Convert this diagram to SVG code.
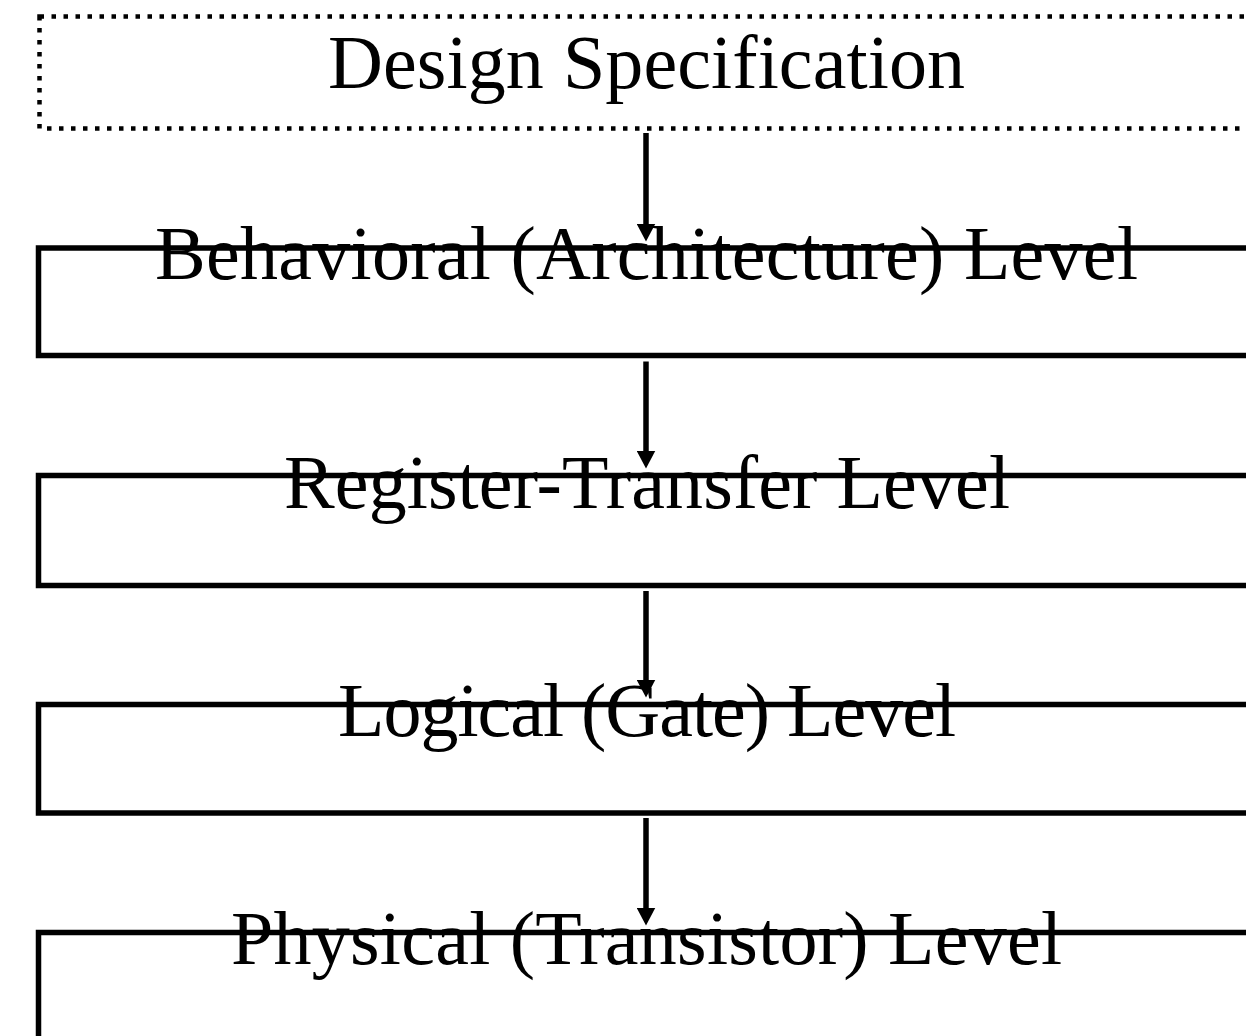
<svg xmlns="http://www.w3.org/2000/svg" width="1246" height="1036" viewBox="0 0 1246 1036">
<style>
.lvl{fill:none;stroke:#000;stroke-width:5.5}
.spec{fill:none;stroke:#000;stroke-width:4.5;stroke-dasharray:4.5 7.5}
.lbl{font-family:"Liberation Serif","Times New Roman",serif;font-size:76px;fill:#000;text-anchor:middle}
.conn{stroke:#000;stroke-width:5.5;fill:none}
</style>
<defs>
<marker id="ah" markerUnits="userSpaceOnUse" markerWidth="18" markerHeight="19" viewBox="0 0 18 19" refX="6" refY="9.5" orient="auto">
<path d="M0,0 L18,9.5 L0,19 z" fill="#000"/>
</marker>
</defs>
<rect width="1246" height="1036" fill="#fff"/>
<g id="spec">
<rect class="spec" x="39.5" y="16.5" width="1300" height="112"/>
<text class="lbl" x="646.5" y="88" textLength="637">Design Specification</text>
</g>
<g id="behavioral">
<rect class="lvl" x="38.5" y="248" width="1300" height="107.5"/>
<text class="lbl" x="646.5" y="279" textLength="983">Behavioral (Architecture) Level</text>
</g>
<g id="rtl">
<rect class="lvl" x="38.5" y="475.5" width="1300" height="110"/>
<text class="lbl" x="647" y="507.5" textLength="726">Register-Transfer Level</text>
</g>
<g id="gate">
<rect class="lvl" x="38.5" y="704.5" width="1300" height="108.5"/>
<text class="lbl" x="647" y="736" textLength="618">Logical (Gate) Level</text>
</g>
<g id="physical">
<rect class="lvl" x="38.5" y="932.5" width="1300" height="200"/>
<text class="lbl" x="646.5" y="964" textLength="831">Physical (Transistor) Level</text>
</g>
<g id="connectors">
<line class="conn" x1="646" y1="133" x2="646" y2="229.5" marker-end="url(#ah)"/>
<line class="conn" x1="646" y1="361.5" x2="646" y2="456.5" marker-end="url(#ah)"/>
<line class="conn" x1="646" y1="591" x2="646" y2="685.5" marker-end="url(#ah)"/>
<line class="conn" x1="646" y1="818" x2="646" y2="913.5" marker-end="url(#ah)"/>
</g>
</svg>
